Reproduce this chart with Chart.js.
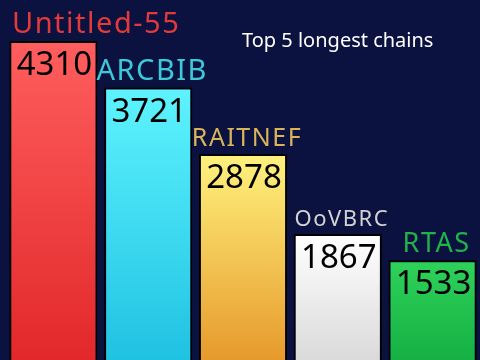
<!DOCTYPE html>
<html>
<head>
<meta charset="utf-8">
<script src="https://cdn.jsdelivr.net/npm/chart.js@4"></script>
<style>
  html, body { margin: 0; padding: 0; background: #0b1240; }
  canvas { display: block; }
</style>
</head>
<body>
<canvas id="chains" width="480" height="360"></canvas>
<script>
// data
const chainNames = ["Untitled-55", "ARCBIB", "RAITNEF", "OoVBRC", "RTAS"];
const chainLengths = [4310, 3721, 2878, 1867, 1533];
const titleText = "Top 5 longest chains";

// styles
const topColors = ["#ff5e5e", "#5ef3ff", "#fff27e", "#ffffff", "#2ed25a"];
const bottomColors = ["#e2282a", "#20c2e2", "#e69a2c", "#dadada", "#16b044"];
const nameColors = ["#e23a3a", "#3ec9d9", "#d9b45a", "#d2d2d2", "#22b24a"];
const nameSizes = [29, 29, 25, 22, 27];

function barGradient(ctx) {
  const chart = ctx.chart;
  const area = chart.chartArea;
  if (!area) return topColors[ctx.dataIndex];
  const y = chart.scales.y.getPixelForValue(ctx.raw);
  const g = chart.ctx.createLinearGradient(0, y, 0, area.bottom);
  g.addColorStop(0, topColors[ctx.dataIndex]);
  g.addColorStop(1, bottomColors[ctx.dataIndex]);
  return g;
}

// labels over the bars + numbers inside + title
const barText = {
  id: "barText",
  afterDatasetsDraw(chart) {
    const c = chart.ctx;
    const bars = chart.getDatasetMeta(0).data;
    c.save();
    bars.forEach(function (bar, i) {
      c.font = nameSizes[i] + 'px "Noto Sans"';
      c.letterSpacing = "1.5px";
      c.fillStyle = nameColors[i];
      c.textBaseline = "alphabetic";
      let w = c.measureText(chainNames[i]).width;
      let left = Math.max(12, bar.x + 4 - w / 2);
      c.textAlign = "left";
      c.fillText(chainNames[i], left, bar.y - 8);

      c.letterSpacing = "0px";
      c.font = '33px "Noto Sans"';
      c.fillStyle = "#000";
      c.textAlign = "center";
      c.fillText(String(chainLengths[i]), bar.x + 1, bar.y + 34);
    });
    c.font = '20px "Noto Sans"';
    c.fillStyle = "#fff";
    c.textAlign = "left";
    c.fillText(titleText, 242, 47);
    c.restore();
  }
};

new Chart(document.getElementById("chains"), {
  type: "bar",
  data: {
    labels: chainNames,
    datasets: [{
      data: chainLengths,
      backgroundColor: barGradient,
      borderColor: "#000",
      borderWidth: 2,
      borderSkipped: false,
      barPercentage: 0.93,
      categoryPercentage: 1
    }]
  },
  options: {
    responsive: false,
    animation: false,
    layout: { padding: { left: 6, right: 0, top: 0, bottom: 0 } },
    plugins: { legend: { display: false }, tooltip: { enabled: false } },
    scales: {
      x: { display: false },
      y: { display: false, min: 271, max: 4829 }
    }
  },
  plugins: [barText]
});
</script>
</body>
</html>
